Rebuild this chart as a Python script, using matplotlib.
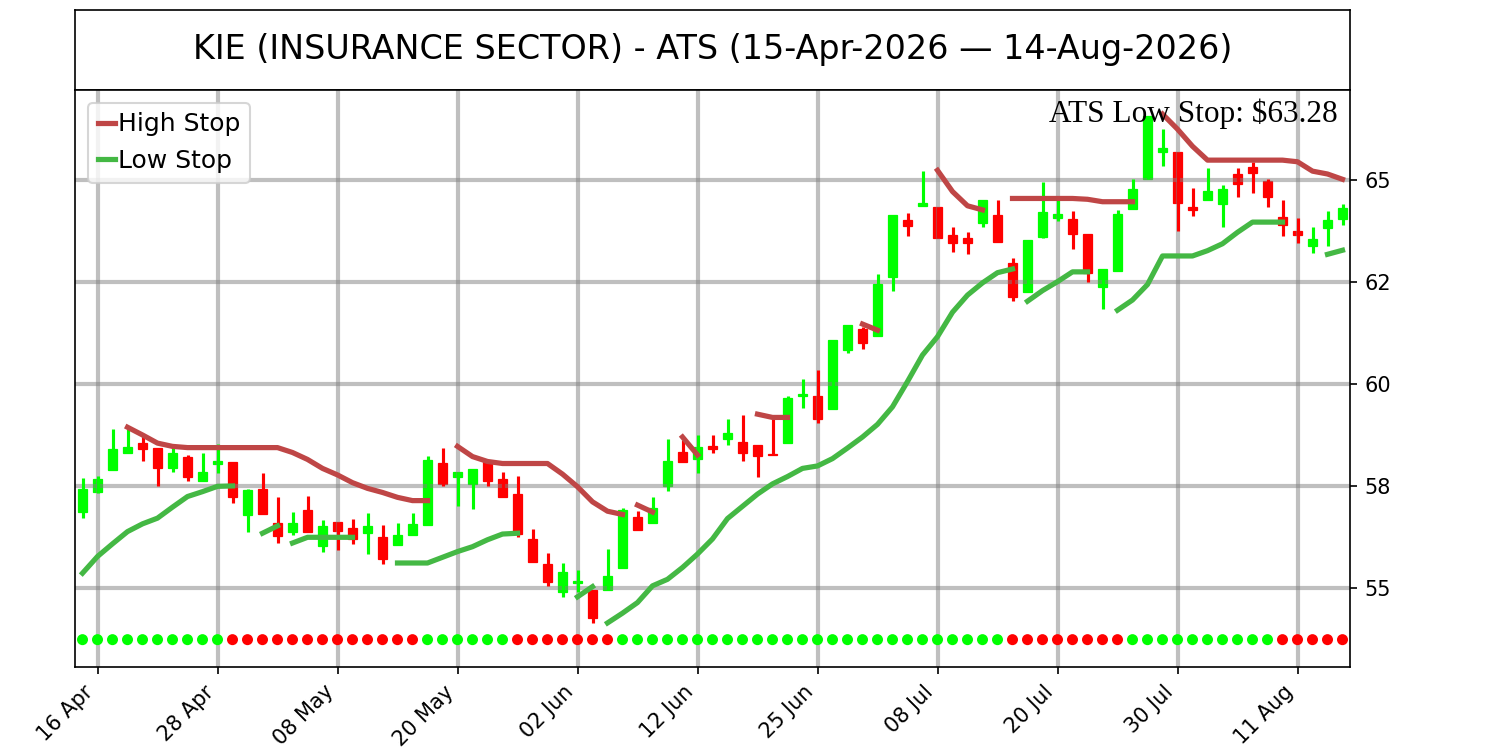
import numpy as np
import pandas as pd
import matplotlib
matplotlib.use("Agg")
import matplotlib.pyplot as plt
from matplotlib.ticker import MultipleLocator, FormatStrFormatter

# ---------------- data ----------------
ticker_title = "KIE (INSURANCE SECTOR) - ATS (15-Apr-2026 \u2014 14-Aug-2026)"
holidays = ["2026-05-25", "2026-06-19", "2026-07-03"]
dates = pd.bdate_range("2026-04-15", "2026-08-14", freq="C", holidays=holidays)

opens = [56.85, 57.35, 57.88, 58.30, 58.55, 58.43, 57.94, 58.20, 57.61, 58.03,
         58.08, 56.78, 57.42, 56.59, 56.36, 56.91, 56.02, 56.61, 56.46, 56.34,
         56.24, 56.04, 56.29, 56.55, 58.07, 57.71, 57.55, 58.08, 57.67, 57.30,
         56.19, 55.58, 54.91, 55.11, 54.96, 54.96, 55.48, 56.73, 56.58, 57.50,
         58.32, 58.17, 58.48, 58.65, 58.57, 58.50, 58.28, 58.56, 59.71, 59.71,
         59.38, 60.83, 61.34, 61.18, 62.63, 64.02, 64.36, 64.33, 63.65, 63.57,
         63.95, 64.14, 62.97, 62.26, 63.61, 64.08, 64.04, 63.69, 62.37, 62.78,
         64.30, 65.02, 65.69, 65.68, 64.33, 64.51, 64.41, 65.15, 65.33, 64.99,
         64.09, 63.74, 63.39, 63.82, 64.04]
highs = [57.69, 57.75, 58.90, 58.90, 58.73, 58.43, 58.47, 58.26, 58.30, 58.53,
         58.08, 57.42, 57.81, 57.22, 56.86, 57.26, 56.67, 56.61, 56.69, 56.83,
         56.55, 56.59, 56.83, 58.24, 58.43, 57.85, 57.91, 58.08, 57.84, 57.74,
         56.44, 55.85, 55.60, 55.45, 54.96, 55.95, 56.97, 56.88, 57.24, 58.65,
         58.62, 58.75, 58.75, 59.14, 59.24, 58.50, 59.13, 59.71, 60.12, 60.34,
         61.09, 61.45, 61.39, 62.70, 64.14, 64.20, 65.22, 64.33, 63.84, 63.72,
         64.51, 64.51, 63.08, 63.53, 64.96, 64.51, 64.24, 63.69, 62.81, 64.26,
         65.02, 66.57, 66.25, 65.68, 64.80, 65.29, 64.87, 65.29, 65.45, 65.02,
         64.51, 64.08, 63.86, 64.24, 64.41]
lows = [56.71, 57.33, 57.88, 58.30, 58.10, 57.49, 57.85, 57.63, 57.61, 57.81,
        57.09, 56.36, 56.82, 56.10, 56.30, 56.37, 55.87, 55.93, 56.08, 55.84,
        55.59, 56.04, 56.29, 56.55, 57.49, 57.00, 56.93, 57.49, 57.22, 56.24,
        55.64, 55.05, 54.78, 54.91, 54.15, 54.96, 55.48, 56.43, 56.58, 57.38,
        58.08, 57.82, 58.30, 58.50, 58.10, 57.73, 58.26, 58.56, 59.42, 59.05,
        59.38, 60.77, 60.87, 61.18, 62.29, 63.63, 64.36, 63.59, 63.24, 63.18,
        63.84, 63.49, 62.04, 62.26, 63.59, 64.00, 63.31, 62.51, 61.83, 62.78,
        64.30, 65.02, 65.35, 63.76, 64.11, 64.51, 63.84, 64.58, 64.69, 64.35,
        63.64, 63.47, 63.22, 63.39, 63.90]
closes = [57.42, 57.68, 58.40, 58.45, 58.40, 57.94, 58.30, 57.73, 57.84, 58.11,
          57.22, 57.39, 56.82, 56.26, 56.59, 56.37, 56.52, 56.40, 56.19, 56.52,
          55.72, 56.30, 56.57, 58.14, 57.55, 57.85, 57.91, 57.61, 57.24, 56.32,
          55.64, 55.15, 55.38, 55.18, 54.25, 55.29, 56.92, 56.43, 56.97, 58.11,
          58.08, 58.46, 58.40, 58.81, 58.30, 58.24, 58.26, 59.65, 59.75, 59.13,
          61.09, 61.45, 61.00, 62.45, 64.14, 63.87, 64.45, 63.59, 63.45, 63.46,
          64.51, 63.49, 62.14, 63.53, 64.21, 64.16, 63.69, 62.73, 62.81, 64.18,
          64.79, 66.57, 65.78, 64.43, 64.27, 64.74, 64.78, 64.90, 65.17, 64.58,
          63.90, 63.66, 63.55, 64.02, 64.31]

nan = np.nan
high_stop = [nan, nan, nan, 58.94, 58.75, 58.55, 58.47, 58.44, 58.44, 58.44,
             58.44, 58.44, 58.44, 58.44, 58.32, 58.15, 57.93, 57.77, 57.58, 57.44,
             57.34, 57.22, 57.14, 57.14, nan, 58.47, 58.22, 58.10, 58.05, 58.05,
             58.05, 58.05, 57.79, 57.48, 57.11, 56.88, 56.80, 57.03, 56.86, nan,
             58.70, 58.26, nan, nan, nan, 59.26, 59.18, 59.18, nan, nan,
             nan, nan, 61.47, 61.32, nan, nan, nan, 65.24, 64.72, 64.37,
             64.27, nan, 64.55, 64.55, 64.55, 64.55, 64.55, 64.53, 64.47, 64.47,
             64.47, nan, 66.62, 66.25, 65.83, 65.49, 65.49, 65.49, 65.49, 65.49,
             65.49, 65.45, 65.22, 65.15, 65.02]
low_stop = [55.36, 55.77, 56.08, 56.38, 56.57, 56.71, 56.98, 57.24, 57.36, 57.49,
            57.50, nan, 56.34, 56.52, 56.10, 56.24, 56.24, 56.24, 56.24, nan,
            nan, 55.61, 55.61, 55.61, 55.75, 55.89, 56.01, 56.18, 56.32, 56.34,
            nan, nan, nan, 54.78, 55.03, 54.14, 54.38, 54.64, 55.05, 55.21,
            55.50, 55.83, 56.20, 56.70, 57.00, 57.30, 57.55, 57.73, 57.93, 57.99,
            58.17, 58.43, 58.70, 59.01, 59.44, 60.06, 60.71, 61.16, 61.76, 62.18,
            62.48, 62.73, 62.82, 62.03, 62.29, 62.51, 62.75, 62.75, nan, 61.81,
            62.06, 62.44, 63.14, 63.14, 63.14, 63.27, 63.44, 63.72, 63.97, 63.97,
            63.97, nan, nan, 63.18, 63.28]
trend_up = ([1] * 10 + [0] * 13 + [1] * 6 + [0] * 7 + [1] * 26 + [0] * 8
            + [1] * 10 + [0] * 5)

# ---------------- figure ----------------
fig = plt.figure(figsize=(10, 5), dpi=150)
tax = fig.add_axes([0.05, 0.88, 0.85, 0.1067])
tax.set_xticks([])
tax.set_yticks([])
tax.text(0.5, 0.5, ticker_title, ha="center", va="center", fontsize=16,
         transform=tax.transAxes)

ax = fig.add_axes([0.05, 0.1107, 0.85, 0.7693])
n = len(closes)
x = np.arange(n)
o = np.array(opens); h = np.array(highs); l = np.array(lows); c = np.array(closes)
up = c >= o
cols = np.where(up, "#00ff00", "#ff0000")

ax.vlines(x, l, h, colors=cols, linewidth=1.5, zorder=2)
ax.bar(x, np.abs(c - o), bottom=np.minimum(o, c), width=0.6, color=cols,
       edgecolor=cols, linewidth=0.6, zorder=1)


def segments(vals, rising_break):
    segs, cur = [], []
    for i, v in enumerate(vals):
        if np.isnan(v):
            if cur:
                segs.append(cur)
            cur = []
            continue
        if cur:
            prev = vals[cur[-1]]
            if (rising_break and v > prev) or (not rising_break and v < prev):
                segs.append(cur)
                cur = []
        cur.append(i)
    if cur:
        segs.append(cur)
    return segs


hs = np.array(high_stop)
ls = np.array(low_stop)
for k, seg in enumerate(segments(hs, True)):
    ax.plot(x[seg], hs[seg], color="#bf4646", linewidth=2.5, zorder=3,
            label="High Stop" if k == 0 else None)
for k, seg in enumerate(segments(ls, False)):
    ax.plot(x[seg], ls[seg], color="#44b844", linewidth=2.5, zorder=3,
            label="Low Stop" if k == 0 else None)

dot_cols = ["#00ff00" if t else "#ff0000" for t in trend_up]
ax.scatter(x, np.full(n, 53.73), c=dot_cols, s=28, zorder=3, linewidths=0)

ax.set_xlim(-0.5, n - 0.5)
ax.set_ylim(53.06, 67.21)
ax.yaxis.tick_right()
ax.yaxis.set_major_locator(MultipleLocator(2.5))
ax.yaxis.set_major_formatter(FormatStrFormatter("%.0f"))
tick_idx = list(range(1, n, 8))
ax.set_xticks(tick_idx)
ax.set_xticklabels([dates[i].strftime("%d %b") for i in tick_idx],
                   rotation=45, ha="right")
ax.tick_params(labelsize=10)
ax.grid(True, color="gray", alpha=0.5, linewidth=2)

ax.text(0.99, 0.985, f"ATS Low Stop: ${low_stop[-1]:.2f}", transform=ax.transAxes,
        ha="right", va="top", fontsize=15, family=["Liberation Serif", "DejaVu Serif"])
ax.legend(loc="upper left", fontsize=12, handlelength=0.7, handletextpad=0.1,
          borderpad=0.4, labelspacing=0.5)

fig.savefig("out.png", dpi=150)
